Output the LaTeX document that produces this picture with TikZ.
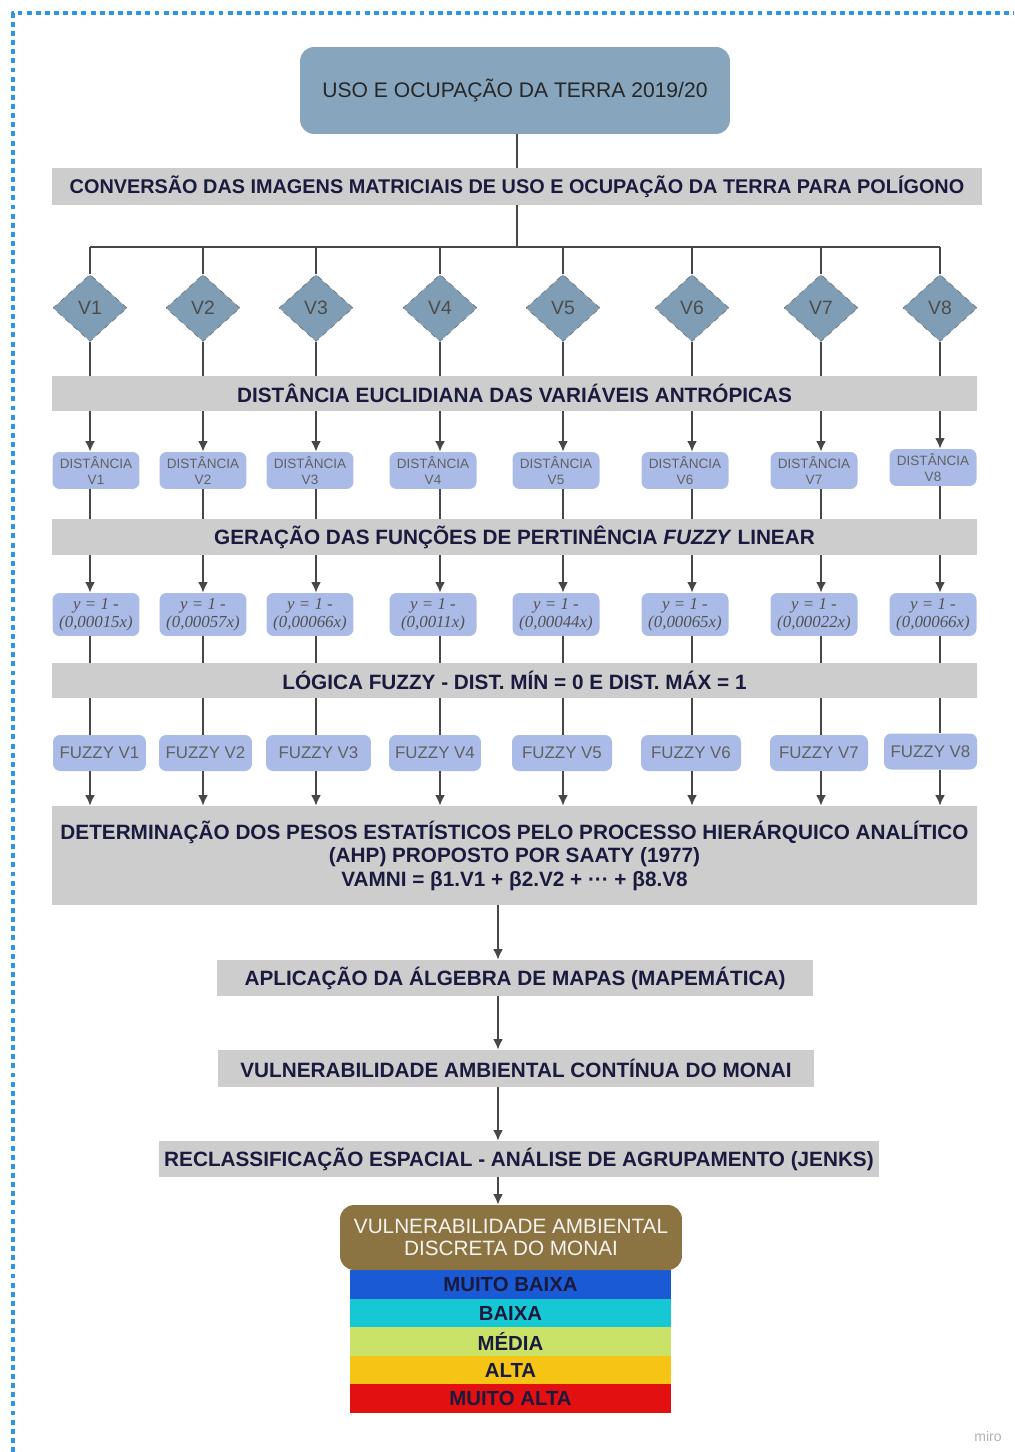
\documentclass[tikz,border=0pt]{standalone}
\usepackage{fontspec}
\setmainfont{Liberation Sans}
\newfontfamily\eqfont{Liberation Serif}
\usetikzlibrary{arrows.meta,positioning,shapes.geometric}

\definecolor{titleblue}{RGB}{135,166,190}
\definecolor{diamondblue}{RGB}{127,158,181}
\definecolor{bargray}{RGB}{205,205,205}
\definecolor{boxblue}{RGB}{170,187,232}
\definecolor{navytext}{RGB}{26,26,62}
\definecolor{brownbox}{RGB}{140,116,66}
\definecolor{borderblue}{RGB}{45,150,230}
\definecolor{muitobaixa}{RGB}{26,90,212}
\definecolor{baixa}{RGB}{22,200,212}
\definecolor{media}{RGB}{202,226,104}
\definecolor{alta}{RGB}{245,196,20}
\definecolor{muitoalta}{RGB}{226,16,16}

\begin{document}
\begin{tikzpicture}[x=0.02cm, y=-0.02cm, >={Latex[length=6pt,width=5.5pt]}, line join=round,
  conn/.style={draw=black!72, line width=0.8pt},
  bar/.style={fill=bargray, text=navytext, inner sep=0pt, minimum height=0.7cm,
    font=\bfseries\fontsize{11.8}{13.4}\selectfont},
  titlebox/.style={fill=titleblue, rounded corners=8pt, text=black!85, minimum width=8.6cm,
    minimum height=1.74cm, font=\fontsize{12}{14}\selectfont},
  losango/.style={diamond, fill=diamondblue, draw=black!55, dashed, inner sep=0pt,
    minimum width=1.48cm, minimum height=1.34cm, text=black!70, font=\fontsize{11}{12}\selectfont},
  caixa/.style={fill=boxblue, rounded corners=4pt, text=black!62, inner sep=0pt,
    minimum width=1.74cm, align=center},
  faixa/.style={minimum width=6.42cm, minimum height=0.572cm, inner sep=0pt, text=navytext,
    font=\bfseries\fontsize{11.6}{12}\selectfont}]
  \useasboundingbox (0,0) rectangle (1014,1452);

  % 边框
  \draw[borderblue, line width=2.8pt, dash pattern=on 2.8pt off 2.4pt] (13,1452) -- (13,13) -- (1014,13);

  % 标题与转换
  \node[titlebox] (uso) at (515,90.5) {USO E OCUPAÇÃO DA TERRA 2019/20};
  \node[bar, minimum width=18.6cm, minimum height=0.74cm, font=\bfseries\fontsize{11.3}{13}\selectfont] (conv) at (517,186.5)
    {CONVERSÃO DAS IMAGENS MATRICIAIS DE USO E OCUPAÇÃO DA TERRA PARA POLÍGONO};
  \coordinate (hub) at (517,247);

  % 变量菱形
  \foreach \i/\cx in {1/90,2/203,3/316,4/440,5/563,6/692,7/821,8/940}
    \node[losango] (v\i) at (\cx,308) {V\i};

  % 横向的长条
  \node[bar, minimum width=18.5cm] (euc) at (514.5,393.5) {DISTÂNCIA EUCLIDIANA DAS VARIÁVEIS ANTRÓPICAS};
  \node[bar, minimum width=18.5cm, minimum height=0.72cm] (gen) at (514.5,537)
    {GERAÇÃO DAS FUNÇÕES DE PERTINÊNCIA \textit{FUZZY} LINEAR};
  \node[bar, minimum width=18.5cm] (logic) at (514.5,680.5) {LÓGICA FUZZY - DIST. MÍN = 0 E DIST. MÁX = 1};
  \node[bar, minimum width=18.5cm, minimum height=1.98cm, align=center] (ahp) at (514.5,855.5)
    {DETERMINAÇÃO DOS PESOS ESTATÍSTICOS PELO PROCESSO HIERÁRQUICO ANALÍTICO\\
     (AHP) PROPOSTO POR SAATY (1977)\\
     VAMNI = β1.V1 + β2.V2 + ··· + β8.V8};

  % 距离、函数与模糊框
  \foreach \i/\dx/\dy in {1/96/470.5,2/203/470.5,3/310/470.5,4/433/470.5,5/556/470.5,6/685/470.5,7/814/470.5,8/933/467.5}
    \node[caixa, minimum height=0.74cm, font=\fontsize{7.7}{9}\selectfont] (d\i) at (\dx,\dy) {DISTÂNCIA\\V\i};
  \foreach \i/\dx/\c in {1/96/0{,}00015,2/203/0{,}00057,3/310/0{,}00066,4/433/0{,}0011,
                         5/556/0{,}00044,6/685/0{,}00065,7/814/0{,}00022,8/933/0{,}00066}
    \node[caixa, minimum height=0.86cm, text=black!68, font=\eqfont\itshape\fontsize{9.6}{10}\selectfont] (e\i) at (\dx,614.5) {y = 1 -\\(\c x)};
  \foreach \i/\fx/\fy/\w in {1/99.5/753/1.86,2/205.5/753/1.86,3/318.5/753/2.1,4/435/753/1.84,
                             5/562/753/2.0,6/691/753/2.0,7/819/753/1.96,8/930.5/751.5/1.86}
    \node[caixa, minimum height=0.72cm, minimum width=\w cm, font=\fontsize{9.6}{11}\selectfont] (f\i) at (\fx,\fy) {FUZZY V\i};

  % 连接线
  \draw[conn] (uso.south -| hub) -- (conv.north -| hub);
  \draw[conn] (conv.south -| hub) -- (hub);
  \draw[conn] (hub -| v1) -- (hub -| v8);
  \foreach \i in {1,...,8} {
    \draw[conn] (hub -| v\i) -- (v\i.north);
    \draw[conn] (v\i.south) -- (v\i.south |- euc.north);
    \draw[conn, ->] (euc.south -| v\i) -- (d\i.north -| v\i);
    \draw[conn] (d\i.south -| v\i) -- (gen.north -| v\i);
    \draw[conn, ->] (gen.south -| v\i) -- (e\i.north -| v\i);
    \draw[conn] (e\i.south -| v\i) -- (logic.north -| v\i);
    \draw[conn] (logic.south -| v\i) -- (f\i.north -| v\i);
    \draw[conn, ->] (f\i.south -| v\i) -- (ahp.north -| v\i);
  }

  % 下方流程
  \coordinate (spine) at (498,0);
  \node[bar, minimum width=11.92cm, minimum height=0.72cm] (alg) at (515,978) {APLICAÇÃO DA ÁLGEBRA DE MAPAS (MAPEMÁTICA)};
  \node[bar, minimum width=11.92cm, minimum height=0.74cm] (cont) at (516,1068.5) {VULNERABILIDADE AMBIENTAL CONTÍNUA DO MONAI};
  \node[bar, minimum width=14.4cm, minimum height=0.72cm] (recl) at (519,1159)
    {RECLASSIFICAÇÃO ESPACIAL - ANÁLISE DE AGRUPAMENTO (JENKS)};

  % 分级色带
  \foreach \k/\cor/\txt in {0/muitobaixa/MUITO BAIXA,1/baixa/BAIXA,2/media/MÉDIA,3/alta/ALTA,4/muitoalta/MUITO ALTA}
    \node[faixa, fill=\cor] (c\k) at (510.5,{1284.5+28.5*\k}) {\txt};
  \node[fill=brownbox, rounded corners=8pt, minimum width=6.84cm, minimum height=1.3cm, inner sep=0pt,
    align=center, text=white!92!brownbox, font=\fontsize{11.8}{13}\selectfont] (disc) at (511,1237.5)
    {VULNERABILIDADE AMBIENTAL\\DISCRETA DO MONAI};

  \draw[conn, ->] (ahp.south -| spine) -- (alg.north -| spine);
  \draw[conn, ->] (alg.south -| spine) -- (cont.north -| spine);
  \draw[conn, ->] (cont.south -| spine) -- (recl.north -| spine);
  \draw[conn, ->] (recl.south -| spine) -- (disc.north -| spine);

  \node[text=black!30, font=\fontsize{8}{9}\selectfont] (miro) at (988,1436) {miro};
\end{tikzpicture}
\end{document}
